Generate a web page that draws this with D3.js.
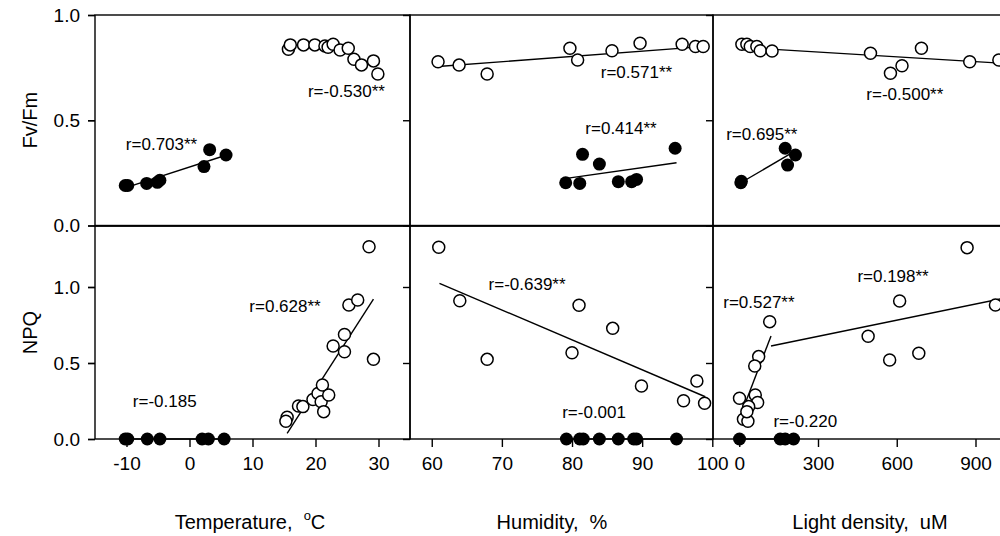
<!DOCTYPE html>
<html>
<head>
<meta charset="utf-8">
<script src="https://cdn.jsdelivr.net/npm/d3@7"></script>
<style>
  body { margin: 0; background: #fff; }
  svg { display: block; }
  text { font-family: "Liberation Sans", Arial, sans-serif; fill: #000; }
</style>
</head>
<body>
<svg id="chart" width="1000" height="536"></svg>
<script>
// ---- values ----
var tempTicks = [-10, 0, 10, 20, 30];
var humTicks = [60, 70, 80, 90, 100];
var lightTicks = [0, 300, 600, 900];
var fvTicks = [0, 0.5, 1.0];
var npqTicks = [0, 0.5, 1.0];

// Fv/Fm row
var tempFvClosed = [[-10.2,0.19],[-9.8,0.19],[-6.8,0.20],[-5.1,0.205],[-4.7,0.215],[2.3,0.28],[3.2,0.36],[5.8,0.335]];
var tempFvOpen = [[15.7,0.837],[16.0,0.858],[18.1,0.858],[19.9,0.858],[21.5,0.853],[22.0,0.847],[22.8,0.861],[23.9,0.834],[25.2,0.842],[26.1,0.79],[27.3,0.763],[29.2,0.782],[29.9,0.72]];
var humFvOpen = [[60.9,0.778],[63.9,0.762],[67.9,0.72],[79.7,0.842],[80.8,0.786],[85.7,0.83],[89.7,0.866],[95.7,0.861],[97.6,0.85],[98.7,0.85]];
var humFvClosed = [[79.1,0.203],[81.1,0.2],[81.5,0.338],[83.9,0.292],[86.6,0.208],[88.5,0.208],[89.2,0.219],[94.7,0.367]];
var lightFvOpen = [[10,0.861],[29,0.861],[42,0.85],[67,0.85],[80,0.83],[125,0.829],[500,0.818],[576,0.723],[620,0.759],[694,0.842],[878,0.778],[989,0.786]];
var lightFvClosed = [[6,0.203],[8,0.21],[175,0.367],[184,0.287],[214,0.335]];

// NPQ row
var tempNpqClosed = [[-10.2,0],[-9.8,0],[-6.7,0],[-4.7,0],[2.0,0],[3.0,0],[5.5,0]];
var tempNpqOpen = [[15.5,0.143],[15.3,0.117],[17.3,0.217],[18.0,0.213],[19.6,0.26],[20.4,0.3],[21.1,0.355],[20.9,0.245],[22.1,0.289],[21.3,0.18],[22.8,0.612],[24.6,0.688],[24.6,0.574],[25.3,0.882],[26.7,0.914],[28.5,1.265],[29.2,0.524]];
var humNpqOpen = [[61.0,1.261],[64.0,0.91],[67.9,0.524],[81.0,0.88],[80.0,0.568],[85.8,0.728],[89.9,0.349],[95.9,0.252],[97.8,0.382],[98.9,0.235]];
var humNpqClosed = [[79.2,0],[81.1,0],[81.6,0],[83.9,0],[86.6,0],[88.8,0],[89.2,0],[94.9,0]];
var lightNpqOpen = [[116,0.772],[74,0.542],[59,0.48],[1,0.268],[61,0.289],[70,0.24],[36,0.213],[16,0.13],[33,0.117],[29,0.18],[491,0.676],[573,0.52],[611,0.908],[684,0.564],[868,1.259],[976,0.882]];
var lightNpqClosed = [[1,0],[156,0],[175,0],[207,0]];

// fitted regression lines (end points)
var tempFvFit = [[-10.1,0.18],[5.9,0.335]];
var humFvOpenFit = [[60.9,0.755],[98.6,0.85]];
var humFvClosedFit = [[79.2,0.224],[94.9,0.298]];
var lightFvOpenFit = [[10,0.846],[996,0.771]];
var lightFvClosedFit = [[6,0.203],[194,0.34]];
var tempNpqClosedFit = [[-10.2,0],[5.5,0]];
var tempNpqOpenFit = [[15.5,0.037],[29.2,0.92]];
var humNpqOpenFit = [[61.1,1.024],[99.0,0.278]];
var humNpqClosedFit = [[79.2,0],[94.9,0]];
var lightNpqSteepFit = [[1,0.137],[121,0.678]];
var lightNpqShallowFit = [[121,0.612],[996,0.922]];
var lightNpqClosedFit = [[1,0],[207,0]];

// correlation labels: [text, x, y] in data units
var tempFvLabels = [['r=0.703**',-10.1,0.359],['r=-0.530**',18.8,0.61]];
var humFvLabels = [['r=0.571**',84.1,0.70],['r=0.414**',81.9,0.435]];
var lightFvLabels = [['r=0.695**',-50,0.406],['r=-0.500**',484,0.596]];
var tempNpqLabels = [['r=0.628**',9.5,0.836],['r=-0.185',-9.0,0.21]];
var humNpqLabels = [['r=-0.639**',68.1,0.98],['r=-0.001',78.6,0.138]];
var lightNpqLabels = [['r=0.527**',-61,0.862],['r=0.198**',450,1.033],['r=-0.220',130,0.079]];

// ---- layout ----
var svg = d3.select('#chart');

var cols = [
  {x: d3.scaleLinear().domain([-15, 35]).range([95, 410]), ticks: tempTicks},
  {x: d3.scaleLinear().domain([56.9, 100.1]).range([410, 713]), ticks: humTicks},
  {x: d3.scaleLinear().domain([-100, 1100]).range([713, 1028]), ticks: lightTicks}
];
var rows = [
  {y: d3.scaleLinear().domain([0, 1]).range([225.5, 15]), ticks: fvTicks, title: 'Fv/Fm'},
  {y: d3.scaleLinear().domain([0, 1.4]).range([439, 226.2]), ticks: npqTicks, title: 'NPQ'}
];

var panels = [
  {c:0, r:0, open:tempFvOpen, closed:tempFvClosed, fits:[tempFvFit], labels:tempFvLabels},
  {c:1, r:0, open:humFvOpen, closed:humFvClosed, fits:[humFvOpenFit, humFvClosedFit], labels:humFvLabels},
  {c:2, r:0, open:lightFvOpen, closed:lightFvClosed, fits:[lightFvOpenFit, lightFvClosedFit], labels:lightFvLabels},
  {c:0, r:1, open:tempNpqOpen, closed:tempNpqClosed, fits:[tempNpqClosedFit, tempNpqOpenFit], labels:tempNpqLabels},
  {c:1, r:1, open:humNpqOpen, closed:humNpqClosed, fits:[humNpqOpenFit, humNpqClosedFit], labels:humNpqLabels},
  {c:2, r:1, open:lightNpqOpen, closed:lightNpqClosed, fits:[lightNpqSteepFit, lightNpqShallowFit, lightNpqClosedFit], labels:lightNpqLabels}
];

// plain hyphen for negatives, like the original
var intFmt = function(d) { return String(d); };

// frames + y ticks on the left edge of every panel
panels.forEach(function(p) {
  var xs = cols[p.c].x, ys = rows[p.r].y;
  var x0 = xs.range()[0], x1 = xs.range()[1];
  var y0 = ys.range()[1], y1 = ys.range()[0];
  svg.append('rect')
    .attr('x', x0).attr('y', y0)
    .attr('width', x1 - x0).attr('height', y1 - y0)
    .attr('fill', 'none').attr('stroke', '#000').attr('stroke-width', 1.4);

  var yAxis = d3.axisLeft(ys).tickValues(rows[p.r].ticks).tickSize(7).tickFormat('');
  var g = svg.append('g').attr('transform', 'translate(' + x0 + ',0)').call(yAxis);
  g.select('.domain').remove();
  g.selectAll('line').attr('stroke-width', 1.4);
});

// y tick labels (left column only)
rows.forEach(function(row) {
  var yAxis = d3.axisLeft(row.y).tickValues(row.ticks).tickSize(7).tickPadding(8)
    .tickFormat(d3.format('.1f'));
  var g = svg.append('g').attr('transform', 'translate(95,0)').call(yAxis);
  g.select('.domain').remove();
  g.selectAll('line').attr('stroke-width', 1.4);
  g.selectAll('text').attr('font-size', '19px')
    .attr('font-family', '"Liberation Sans", Arial, sans-serif');

  var yc = (row.y.range()[0] + row.y.range()[1]) / 2;
  svg.append('text')
    .attr('transform', 'translate(37,' + yc + ') rotate(-90)')
    .attr('text-anchor', 'middle')
    .attr('font-size', '20px')
    .text(row.title);
});

// x axes along the bottom row
cols.forEach(function(col) {
  var xAxis = d3.axisBottom(col.x).tickValues(col.ticks).tickSize(8).tickPadding(10)
    .tickFormat(intFmt);
  var g = svg.append('g').attr('transform', 'translate(0,439)').call(xAxis);
  g.select('.domain').remove();
  g.selectAll('line').attr('stroke-width', 1.4);
  g.selectAll('text').attr('font-size', '19px')
    .attr('font-family', '"Liberation Sans", Arial, sans-serif');
});

// fitted lines, then points, then labels
panels.forEach(function(p) {
  var xs = cols[p.c].x, ys = rows[p.r].y;
  var line = d3.line().x(function(d) { return xs(d[0]); }).y(function(d) { return ys(d[1]); });
  p.fits.forEach(function(f) {
    svg.append('path').attr('d', line(f))
      .attr('fill', 'none').attr('stroke', '#000').attr('stroke-width', 1.4);
  });

  svg.append('g').selectAll('circle').data(p.open).enter().append('circle')
    .attr('cx', function(d) { return xs(d[0]); })
    .attr('cy', function(d) { return ys(d[1]); })
    .attr('r', 6)
    .attr('fill', '#fff').attr('stroke', '#000').attr('stroke-width', 1.5);

  svg.append('g').selectAll('circle').data(p.closed).enter().append('circle')
    .attr('cx', function(d) { return xs(d[0]); })
    .attr('cy', function(d) { return ys(d[1]); })
    .attr('r', 6.5)
    .attr('fill', '#000');

  svg.append('g').selectAll('text').data(p.labels).enter().append('text')
    .attr('x', function(d) { return xs(d[1]); })
    .attr('y', function(d) { return ys(d[2]); })
    .attr('font-size', '17px')
    .text(function(d) { return d[0]; });
});

// axis titles
var titles = [
  {x: 250, pre: 'Temperature,  ', sup: 'o', post: 'C'},
  {x: 552, pre: 'Humidity,  %', sup: '', post: ''},
  {x: 870, pre: 'Light density,  uM', sup: '', post: ''}
];
titles.forEach(function(t) {
  var tx = svg.append('text')
    .attr('x', t.x).attr('y', 529)
    .attr('text-anchor', 'middle')
    .attr('font-size', '20px')
    .style('white-space', 'pre');
  tx.append('tspan').text(t.pre);
  if (t.sup) {
    tx.append('tspan').attr('dy', -9).attr('font-size', '13px').text(t.sup);
    tx.append('tspan').attr('dy', 9).text(t.post);
  }
});
</script>
</body>
</html>
